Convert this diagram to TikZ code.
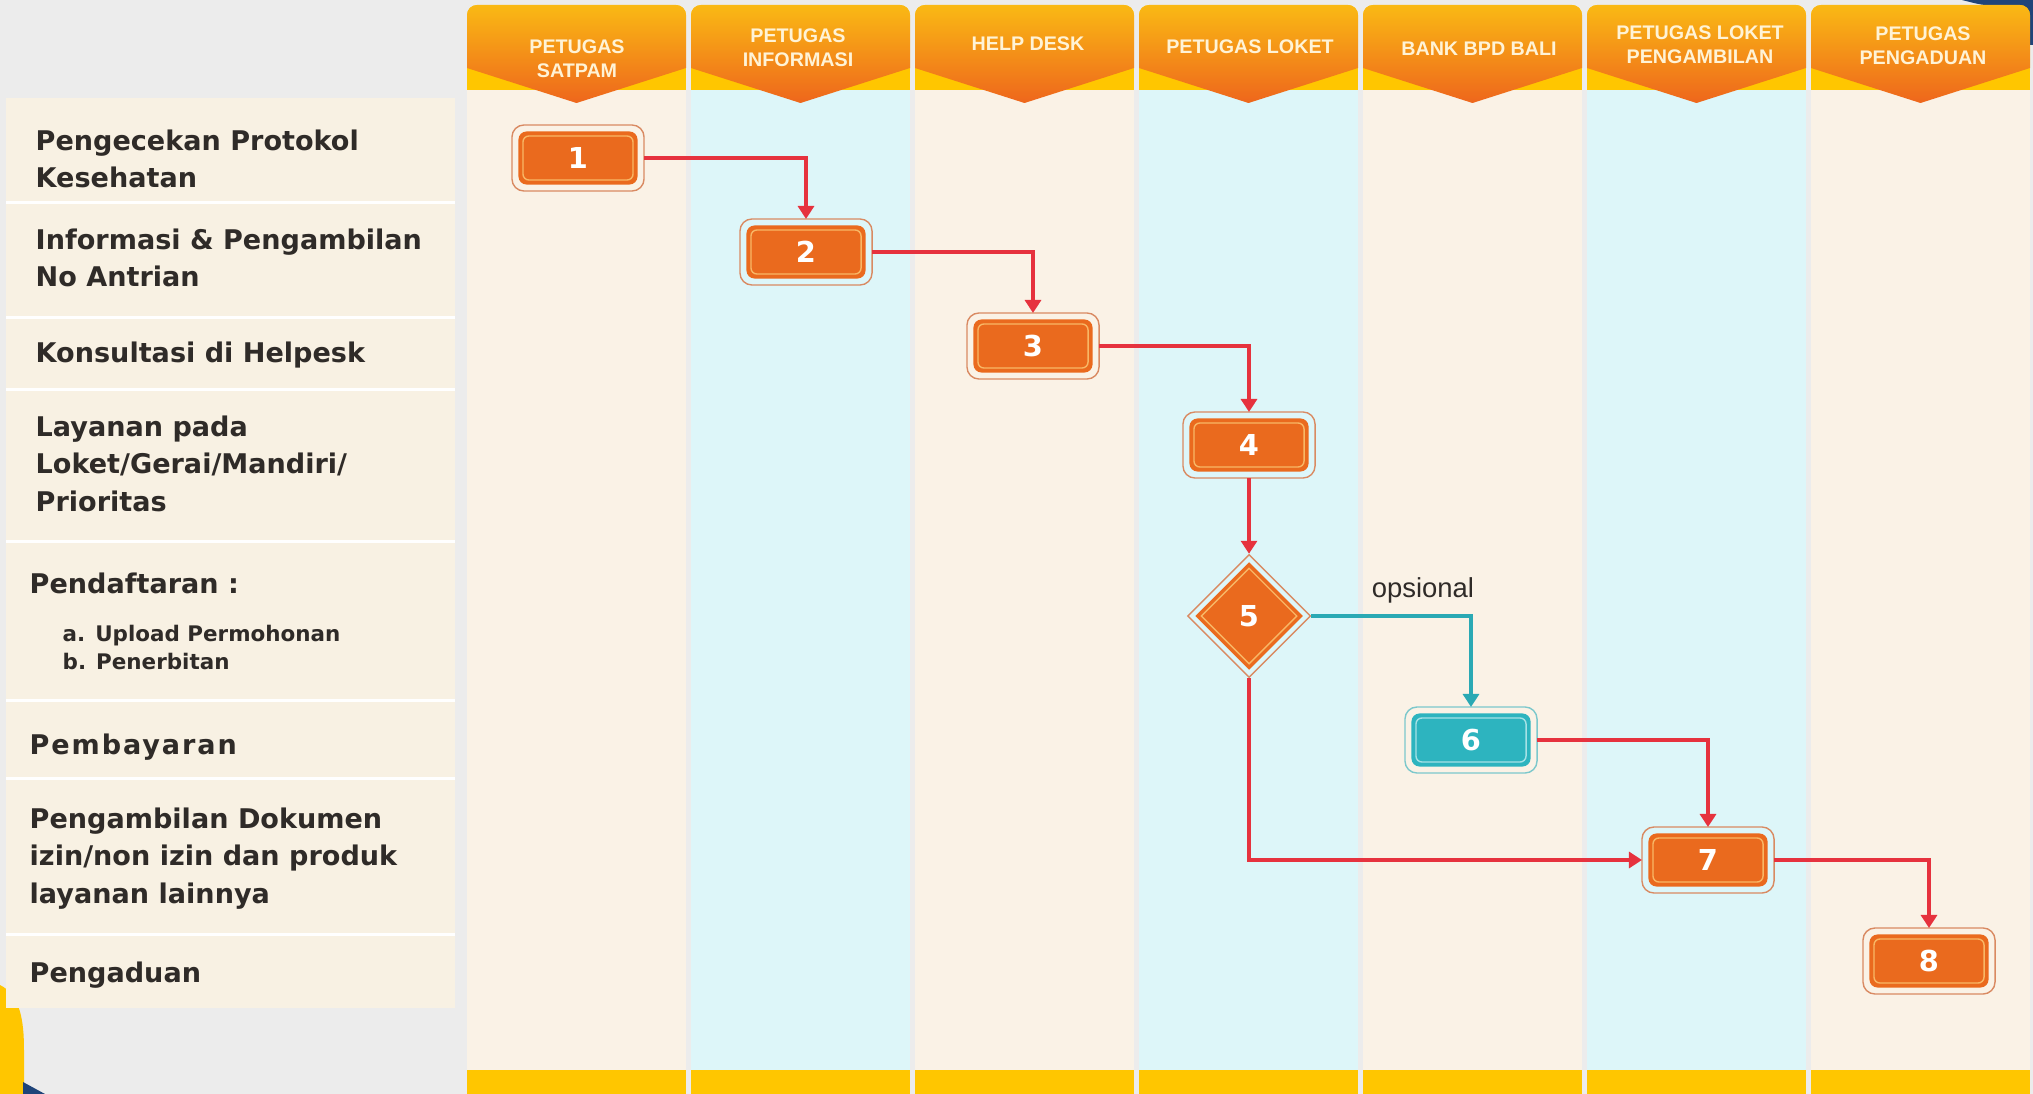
\documentclass[tikz,border=0pt]{standalone}
\usepackage{fontspec}
\setmainfont{DejaVu Sans}
\newfontfamily\headfont{Liberation Sans}
\usetikzlibrary{arrows.meta,shapes.geometric}

\definecolor{bggray}{HTML}{ECECEC}
\definecolor{lanebeige}{HTML}{FAF2E6}
\definecolor{lanecyan}{HTML}{DDF6F9}
\definecolor{rowbeige}{HTML}{F8F1E3}
\definecolor{hdyellow}{HTML}{FFC600}
\definecolor{hdtop}{HTML}{FAB914}
\definecolor{hdbottom}{HTML}{EE661C}
\definecolor{hdtext}{HTML}{FFF3D6}
\definecolor{steporange}{HTML}{EA6A1E}
\definecolor{stepline}{HTML}{F8B766}
\definecolor{ringorange}{HTML}{D98A62}
\definecolor{stepteal}{HTML}{2DB4BF}
\definecolor{tealline}{HTML}{A6E2E6}
\definecolor{ringteal}{HTML}{7CC8CC}
\definecolor{flowred}{HTML}{E6323E}
\definecolor{flowteal}{HTML}{2AA9B4}
\definecolor{textdark}{HTML}{2F2B28}
\definecolor{navy}{HTML}{1F4479}

\tikzset{
  rowtext/.style={align=left, text=textdark, inner sep=0pt, anchor=base west,
    font=\fontsize{7.7}{10.6}\selectfont\bfseries},
  subtext/.style={rowtext, font=\fontsize{6.1}{7.7}\selectfont\bfseries},
  lanehead/.style={align=center, text=hdtext, inner sep=0pt, anchor=base,
    font=\headfont\fontsize{5.6}{7.1}\selectfont\bfseries},
  stepbox/.style={rounded corners=0.08cm, fill=steporange, minimum width=1.19cm,
    minimum height=0.53cm, inner sep=0pt, outer sep=0.065cm, text=white,
    font=\fontsize{8.2}{10}\selectfont\bfseries},
  tealbox/.style={stepbox, fill=stepteal},
  flow/.style={draw=flowred, line width=0.9pt, -{Triangle[length=0.13cm,width=0.16cm]}},
  optflow/.style={flow, draw=flowteal}
}

\begin{document}
\begin{tikzpicture}[x=0.01cm, y=-0.01cm]
    \useasboundingbox (0,0) rectangle (2033,1094);
    \fill[bggray] (0,0) rectangle (2033,1094);

    % corner bits of the slide
    \fill[navy] (1962,0) .. controls (1985,6) .. (2020,6) -- (2020,45) -- (2033,45) -- (2033,0) -- cycle;
    \fill[hdyellow] (0,985) .. controls (20,995) and (24,1020) .. (24,1050) -- (24,1094) -- (0,1094) -- cycle;
    \fill[navy] (23,1082) -- (45,1094) -- (23,1094) -- cycle;

    % lanes
    \foreach \i/\c in {0/lanebeige,1/lanecyan,2/lanebeige,3/lanecyan,4/lanebeige,5/lanecyan,6/lanebeige} {
        \fill[\c] (467+224*\i,90) rectangle ++(219,980);
        \fill[hdyellow] (467+224*\i,1070) rectangle ++(219,24);
        \begin{scope}
            \clip[rounded corners=0.1cm] (467+224*\i,5) rectangle ++(219,130);
            \fill[hdyellow] (467+224*\i,5) rectangle ++(219,85);
            \shade[top color=hdtop, bottom color=hdbottom] (467+224*\i,5) -- ++(219,0) -- ++(0,63)
                -- ++(-109.5,35) -- ++(-109.5,-35) -- cycle;
        \end{scope}
    }

    % base of a multi-line node = its last line
    \node[lanehead] (hdSatpam) at (577,78) {PETUGAS\\SATPAM};
    \node[lanehead] (hdInfo) at (798,67) {PETUGAS\\INFORMASI};
    \node[lanehead] (hdHelp) at (1028,51) {HELP DESK};
    \node[lanehead] (hdLoket) at (1250,54) {PETUGAS LOKET};
    \node[lanehead] (hdBank) at (1479,56) {BANK BPD BALI};
    \node[lanehead] (hdAmbil) at (1700,64) {PETUGAS LOKET\\PENGAMBILAN};
    \node[lanehead] (hdAdu) at (1923,65) {PETUGAS\\PENGADUAN};

    % left panel
    \fill[white] (6,98) rectangle (455,1008);
    \foreach \t/\b in {98/201,204/316,319/388,391/540,543/699,702/777,780/933,936/1008}
        \fill[rowbeige] (6,\t) rectangle (455,\b);

    \node[rowtext] (rProtokol) at (35,188) {Pengecekan Protokol\\Kesehatan};
    \node[rowtext] (rAntrian) at (35,287) {Informasi \& Pengambilan\\No Antrian};
    \node[rowtext] (rHelpdesk) at (35,363) {Konsultasi di Helpesk};
    \node[rowtext] (rLayanan) at (35,511) {Layanan pada\\Loket/Gerai/Mandiri/\\Prioritas};
    \node[rowtext] (rDaftar) at (29,593) {Pendaftaran :};
    \node[subtext] (rDaftarSub) at (62,669) {a. Upload Permohonan\\b. Penerbitan};
    \node[rowtext] (rBayar) at (29,754) {\addfontfeature{LetterSpace=7}Pembayaran};
    \node[rowtext] (rDokumen) at (29,903) {Pengambilan Dokumen\\izin/non izin dan produk\\layanan lainnya};
    \node[rowtext] (rAdu) at (29,982) {Pengaduan};

    % steps
    \node[stepbox] (s1) at (578,158) {1};
    \node[stepbox] (s2) at (806,252) {2};
    \node[stepbox] (s3) at (1033,346) {3};
    \node[stepbox] (s4) at (1249,445) {4};
    \node[tealbox] (s6) at (1471,740) {6};
    \node[stepbox] (s7) at (1708,860) {7};
    \node[stepbox] (s8) at (1929,961) {8};
    \foreach \n in {s1,s2,s3,s4,s7,s8} {
        \draw[ringorange, line width=0.4pt, rounded corners=0.12cm] (\n.north west) rectangle (\n.south east);
        \draw[stepline, line width=0.4pt, rounded corners=0.06cm] ([shift={(11,11)}]\n.north west) rectangle ([shift={(-11,-11)}]\n.south east);
    }
    \draw[ringteal, line width=0.4pt, rounded corners=0.12cm] (s6.north west) rectangle (s6.south east);
    \draw[tealline, line width=0.4pt, rounded corners=0.06cm] ([shift={(11,11)}]s6.north west) rectangle ([shift={(-11,-11)}]s6.south east);

    \node[diamond, aspect=1, fill=steporange, minimum width=1.08cm, minimum height=1.08cm, inner sep=0pt,
        text=white, font=\fontsize{8.2}{10}\selectfont\bfseries] (s5) at (1249,616) {5};
    \node[diamond, aspect=1, draw=stepline, line width=0.4pt, minimum width=0.96cm, minimum height=0.96cm, inner sep=0pt] (l5) at (s5) {};
    \node[diamond, aspect=1, draw=ringorange, line width=0.4pt, minimum width=1.23cm, minimum height=1.23cm, inner sep=0pt] (r5) at (s5) {};

    \node[text=textdark, anchor=base, inner sep=0pt, font=\headfont\fontsize{7.8}{9}\selectfont] (opsi) at (1423,597) {opsional};

    % connectors
    \draw[flow] (s1.east) -| (s2.north);
    \draw[flow] (s2.east) -| (s3.north);
    \draw[flow] (s3.east) -| (s4.north);
    \draw[flow] (s4.south) -- (r5.north);
    \draw[optflow] (r5.east) -| (s6.north);
    \draw[flow] (r5.south) |- (s7.west);
    \draw[flow] (s6.east) -| (s7.north);
    \draw[flow] (s7.east) -| (s8.north);
\end{tikzpicture}
\end{document}
